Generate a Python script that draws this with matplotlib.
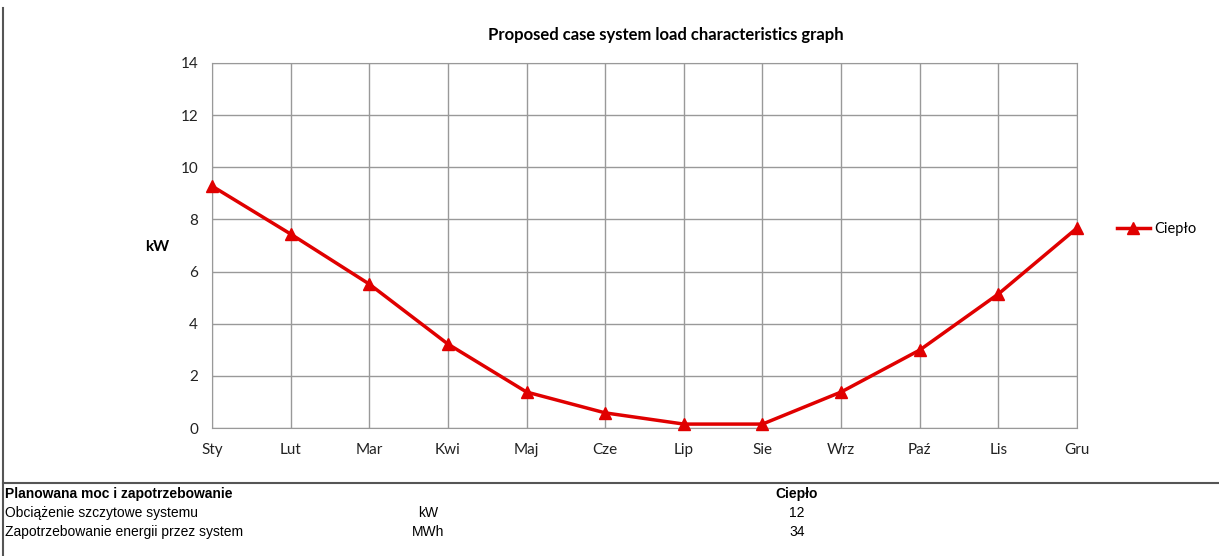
import matplotlib.pyplot as plt

months = ['Sty', 'Lut', 'Mar', 'Kwi', 'Maj', 'Cze', 'Lip', 'Sie', 'Wrz', 'Paź', 'Lis', 'Gru']
heat_kw = [9.28, 7.44, 5.52, 3.22, 1.38, 0.58, 0.15, 0.15, 1.38, 2.99, 5.14, 7.67]

table_header = ['Planowana moc i zapotrzebowanie', '', 'Ciepło']
table_rows = [
    ['Obciążenie szczytowe systemu', 'kW', '12'],
    ['Zapotrzebowanie energii przez system', 'MWh', '34'],
]

W, H = 1219, 556
fig = plt.figure(figsize=(W / 100, H / 100), dpi=100)
plt.rcParams['font.family'] = ['Lato', 'DejaVu Sans']

# chart area in pixel coords
left, right, top, bottom = 212, 1077, 63, 428
ax = fig.add_axes([left / W, 1 - bottom / H, (right - left) / W, (bottom - top) / H])

x = list(range(len(months)))
ax.plot(x, heat_kw, color='#e00000', lw=2.5, marker='^', ms=8,
        label='Ciepło', zorder=3, clip_on=False)

ax.set_xlim(0, len(months) - 1)
ax.set_ylim(0, 14)
ax.set_yticks(range(0, 15, 2))
ax.set_xticks(x)
ax.set_xticklabels(months)
ax.grid(True, color='#999999', lw=1)
ax.tick_params(length=0, labelsize=11, colors='#222222')
ax.tick_params(axis='x', pad=11)
ax.tick_params(axis='y', pad=10)
for s in ax.spines.values():
    s.set_color('#999999')
ax.set_ylabel('kW', rotation=0, fontsize=11, fontweight='bold', labelpad=20, va='center')
ax.yaxis.set_label_coords(-0.063, (428 - 247) / 365)

ax.legend(loc='center left', bbox_to_anchor=(1.04, (428 - 229) / 365),
          frameon=False, fontsize=10.5, handlelength=2.2, handletextpad=0.3,
          borderaxespad=0)

fig.text(666 / W, 1 - 35 / H, 'Proposed case system load characteristics graph',
         ha='center', va='center', fontsize=12, fontweight='bold')

# frame lines around the summary table
fig.add_artist(plt.Line2D([3 / W, 3 / W], [0, 1 - 8 / H], color='#555555', lw=1.5))
fig.add_artist(plt.Line2D([3 / W, 1], [1 - 483 / H, 1 - 483 / H], color='#555555', lw=1.5))

tfont = ['Liberation Sans', 'DejaVu Sans']
col_x = [5, 428, 797]
col_ha = ['left', 'center', 'center']
rows = [table_header] + table_rows
row_y = [494, 513, 532]
for r, (row, yy) in enumerate(zip(rows, row_y)):
    for c, txt in enumerate(row):
        fig.text(col_x[c] / W, 1 - yy / H, txt, ha=col_ha[c], va='center',
                 fontsize=10, family=tfont, fontweight='bold' if r == 0 else 'normal')

fig.savefig('out.png', dpi=100)
